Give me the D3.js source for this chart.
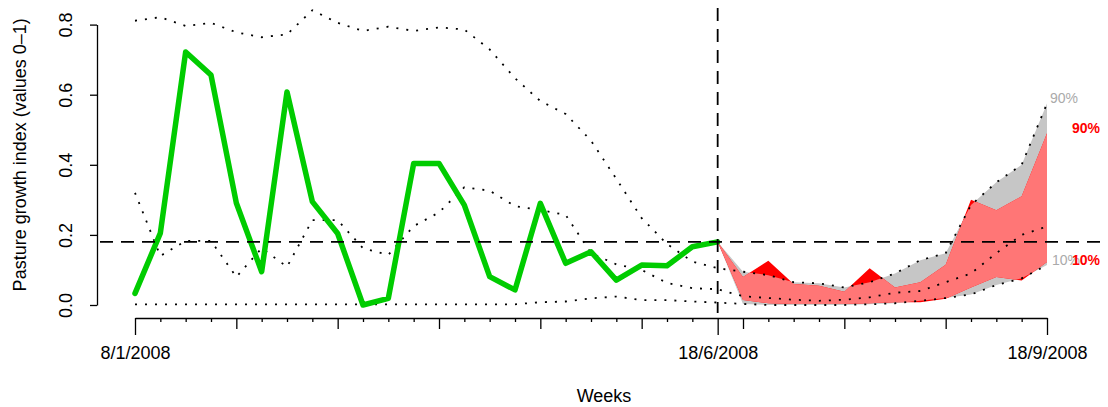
<!DOCTYPE html>
<html><head><meta charset="utf-8">
<script src="https://cdn.jsdelivr.net/npm/d3@7"></script>
<style>body{margin:0;background:#fff}svg{display:block;font-family:"Liberation Sans",Arial,Helvetica,sans-serif}</style>
</head><body><svg id="c" width="1108" height="407"></svg>
<script>
// ---- data ----
const weeks = d3.range(0, 37);                 // week index 0 = 8/1/2008, 23 = 18/6/2008, 36 = 18/9/2008
const obsWeeks = d3.range(0, 24);
const observed = [0.033,0.205,0.722,0.656,0.291,0.095,0.608,0.295,0.204,0.0,0.019,0.404,0.404,0.285,0.081,0.043,0.29,0.119,0.152,0.071,0.114,0.112,0.166,0.18];
const histUpper = [0.811,0.821,0.796,0.805,0.778,0.764,0.772,0.841,0.805,0.782,0.794,0.782,0.792,0.786,0.729,0.647,0.582,0.545,0.469,0.36,0.248,0.174,0.124,0.105,0.095,0.085,0.065,0.062,0.05,0.065,0.09,0.128,0.148,0.285,0.35,0.40,0.575];
const histMiddle = [0.32,0.14,0.183,0.183,0.08,0.162,0.109,0.242,0.242,0.162,0.143,0.225,0.264,0.336,0.326,0.282,0.271,0.257,0.148,0.116,0.1,0.063,0.048,0.045,0.025,0.02,0.015,0.012,0.015,0.022,0.035,0.04,0.065,0.09,0.148,0.2,0.224];
const histLower = [0.002,0.002,0.002,0.002,0.002,0.002,0.002,0.002,0.002,0.002,0.002,0.002,0.002,0.002,0.002,0.002,0.008,0.01,0.019,0.024,0.014,0.014,0.01,0.007,0.003,0.0,0.0,0.0,0.0,0.002,0.005,0.012,0.02,0.03,0.057,0.076,0.114];
const fcWeeks = d3.range(23, 37);
const grayHi = [0.18,0.095,0.085,0.065,0.062,0.05,0.065,0.09,0.128,0.148,0.285,0.35,0.40,0.575];
const grayLo = [0.18,0.003,0.0,0.0,0.0,0.0,0.002,0.005,0.012,0.02,0.03,0.057,0.076,0.114];
const redHi  = [0.18,0.08,0.126,0.06,0.055,0.038,0.105,0.05,0.065,0.115,0.30,0.27,0.31,0.49];
const redLo  = [0.18,0.014,0.005,0.003,0.003,0.003,0.005,0.008,0.008,0.018,0.05,0.08,0.07,0.123];
const refLevel = 0.18;
const nowWeek = 23;
const dateLabels = ["8/1/2008","18/6/2008","18/9/2008"];
const dateWeeks = [0, 23, 36];
const yTicks = [0, 0.2, 0.4, 0.6, 0.8];

// ---- scales ----
const svg = d3.select("#c");
const x = d3.scaleLinear().domain([0, 36]).range([135, 1047]);
const y = d3.scaleLinear().domain([0, 0.8]).range([305, 24.6]);

// ---- bands ----
const grayArea = d3.area().x((d,i)=>x(fcWeeks[i])).y0((d,i)=>y(grayLo[i])).y1((d,i)=>y(grayHi[i]));
const redArea = d3.area().x((d,i)=>x(fcWeeks[i])).y0((d,i)=>y(redLo[i])).y1((d,i)=>y(redHi[i]));
const defs = svg.append("defs");
defs.append("clipPath").attr("id","grayClip").append("path").attr("d", grayArea(fcWeeks));
svg.append("path").attr("d", grayArea(fcWeeks)).attr("fill","#c6c6c6");
svg.append("path").attr("d", redArea(fcWeeks)).attr("fill","#ff0000");
svg.append("path").attr("d", redArea(fcWeeks)).attr("fill","#ff7676").attr("clip-path","url(#grayClip)");

// ---- dotted historical lines ----
const line = arr => d3.line().x((d,i)=>x(weeks[i])).y((d,i)=>y(arr[i]))(arr);
[histUpper, histMiddle, histLower].forEach(arr => {
  svg.append("path").attr("d", line(arr)).attr("fill","none").attr("stroke","#000")
    .attr("stroke-width",1.8).attr("stroke-dasharray","2,8");
});

// ---- observed ----
svg.append("path").attr("d", d3.line().x((d,i)=>x(obsWeeks[i])).y(d=>y(d))(observed))
  .attr("fill","none").attr("stroke","#00cc00").attr("stroke-width",5.5)
  .attr("stroke-linejoin","round").attr("stroke-linecap","round");

// ---- reference dashed lines ----
svg.append("line").attr("x1",100).attr("x2",1108).attr("y1",y(refLevel)).attr("y2",y(refLevel))
  .attr("stroke","#000").attr("stroke-width",1.8).attr("stroke-dasharray","13,8");
svg.append("line").attr("x1",x(nowWeek)).attr("x2",x(nowWeek)).attr("y1",8).attr("y2",313)
  .attr("stroke","#000").attr("stroke-width",1.8).attr("stroke-dasharray","13,8");

// ---- band labels ----
const last = fcWeeks.length - 1;
svg.append("text").attr("x", x(36)+3).attr("y", y(grayHi[last])).text("90%")
  .attr("fill","#aaaaaa").attr("font-size",14);
svg.append("text").attr("x", x(36)+25).attr("y", y(redHi[last])).text("90%")
  .attr("fill","#ff0000").attr("font-size",14).attr("font-weight","bold");
svg.append("text").attr("x", x(36)+5).attr("y", y(grayLo[last])).text("10%")
  .attr("fill","#aaaaaa").attr("font-size",14);
svg.append("text").attr("x", x(36)+25).attr("y", y(grayLo[last])).text("10%")
  .attr("fill","#ff0000").attr("font-size",14).attr("font-weight","bold");

// ---- y axis ----
const gy = svg.append("g").attr("transform","translate(97,0)")
  .call(d3.axisLeft(y).tickValues(yTicks).tickSize(7).tickSizeOuter(0).tickFormat(d3.format(".1f")));
gy.selectAll("path,line").attr("stroke","#000").attr("stroke-width",1.3);
gy.selectAll("text").attr("x",0).attr("y",0).attr("dy",0)
  .attr("transform","translate(-25,0) rotate(-90)").attr("text-anchor","middle")
  .attr("font-size",18).attr("fill","#000").attr("font-family","Liberation Sans, Arial, sans-serif");

// ---- x axis ----
const gx = svg.append("g").attr("transform","translate(0,318)")
  .call(d3.axisBottom(x).tickValues(weeks).tickSize(4).tickSizeOuter(0)
    .tickFormat(d => { const k = dateWeeks.indexOf(d); return k >= 0 ? dateLabels[k] : ""; }));
gx.selectAll("path,line").attr("stroke","#000").attr("stroke-width",1.3);
gx.selectAll(".tick line").attr("y2", d => dateWeeks.includes(d) ? 17 : (d % 4 === 0 ? 11 : 4));
gx.selectAll("text").attr("y",41).attr("dy",0).attr("font-size",18).attr("fill","#000")
  .attr("font-family","Liberation Sans, Arial, sans-serif");

// ---- titles ----
svg.append("text").attr("x", 604).attr("y", 402).attr("text-anchor","middle").attr("font-size",18).text("Weeks");
svg.append("text").attr("transform", `translate(26,${(y(0)+y(0.8))/2 - 10}) rotate(-90)`)
  .attr("text-anchor","middle").attr("font-size",18).text("Pasture growth index (values 0\u20131)");
</script></body></html>
